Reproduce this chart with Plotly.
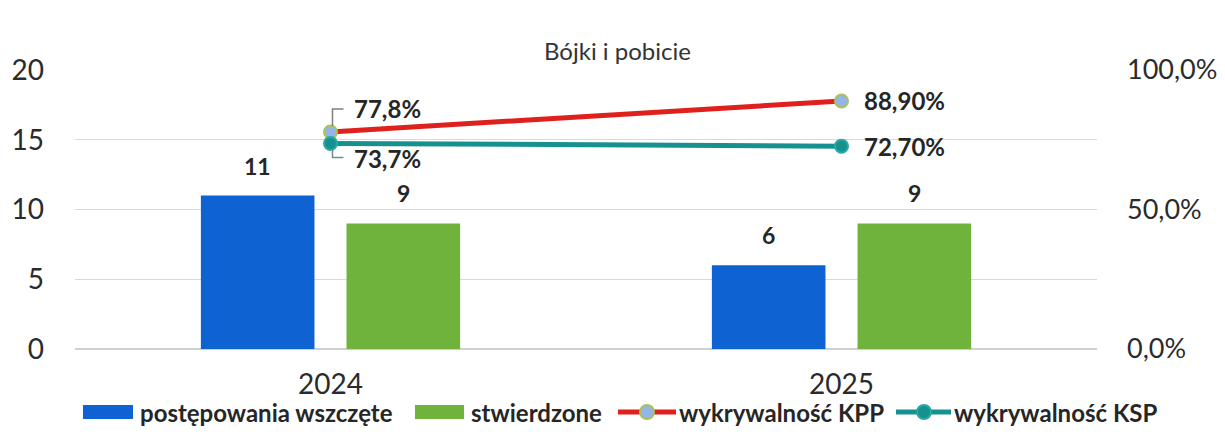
import plotly.graph_objects as go

years = ["2024", "2025"]
wszczete = [11, 6]
stwierdzone = [9, 9]
kpp = [77.8, 88.9]
ksp = [73.7, 72.7]
kpp_labels = ["77,8%", "88,90%"]
ksp_labels = ["73,7%", "72,70%"]
left_ticks = [0, 5, 10, 15, 20]
right_ticks = [0, 50, 100]
right_tick_labels = ["0,0%", "50,0%", "100,0%"]
title_text = "Bójki i pobicie"

FONT = "Lato"
DARK = "#262626"
BLUE = "#0f62d2"
GREEN = "#6fb33c"
RED = "#e0201c"
TEAL = "#17918f"
KPP_FILL = "#93b6e6"
KPP_RIM = "#a9c25a"
KSP_RIM = "#2aa8a6"

# the page body adds an 8px offset; the figure is sized to fill the rest of the window
OFF = 8
W, H = 1225 - OFF, 446 - OFF
ML, MT = 75 - OFF, 70 - OFF
MR = W - (1097 - OFF)
MB = H - (349 - OFF)
PW, PH = W - ML - MR, H - MT - MB


def px(x):  # window pixel -> paper
    return (x - OFF - ML) / PW


def py(y):  # window pixel -> paper
    return (H - MB - (y - OFF)) / PH


fig = go.Figure()
fig.add_trace(go.Bar(x=years, y=wszczete, name="postępowania wszczęte",
                     marker=dict(color=BLUE, line=dict(width=0))))
fig.add_trace(go.Bar(x=years, y=stwierdzone, name="stwierdzone",
                     marker=dict(color=GREEN, line=dict(width=0))))
fig.add_trace(go.Scatter(
    x=years, y=kpp, name="wykrywalność KPP", yaxis="y2", mode="lines+markers",
    line=dict(color=RED, width=5),
    marker=dict(size=13, color=KPP_FILL, line=dict(color=KPP_RIM, width=2)),
    cliponaxis=False,
))
fig.add_trace(go.Scatter(
    x=years, y=ksp, name="wykrywalność KSP", yaxis="y2", mode="lines+markers",
    line=dict(color=TEAL, width=5),
    marker=dict(size=13, color=TEAL, line=dict(color=KSP_RIM, width=2)),
    cliponaxis=False,
))

ann = []
shapes = []

# bar value labels (category axis -> annotation x is the category index)
BAR_OFF = 73
for i, v in enumerate(wszczete):
    ann.append(dict(x=i, y=v, xref="x", yref="y", xshift=-BAR_OFF, yshift=14,
                    yanchor="bottom", text=f"<b>{v}</b>", showarrow=False,
                    font=dict(size=23, color=DARK, family=FONT)))
for i, v in enumerate(stwierdzone):
    ann.append(dict(x=i, y=v, xref="x", yref="y", xshift=BAR_OFF, yshift=14,
                    yanchor="bottom", text=f"<b>{v}</b>", showarrow=False,
                    font=dict(size=23, color=DARK, family=FONT)))

# line value labels
lab_font = dict(size=24, color=DARK, family=FONT)
ann.append(dict(x=0, y=kpp[0], xref="x", yref="y2", xanchor="left", yanchor="middle",
                xshift=21, yshift=23, text=f"<b>{kpp_labels[0]}</b>", showarrow=False, font=lab_font))
ann.append(dict(x=0, y=ksp[0], xref="x", yref="y2", xanchor="left", yanchor="middle",
                xshift=21, yshift=-15, text=f"<b>{ksp_labels[0]}</b>", showarrow=False, font=lab_font))
ann.append(dict(x=1, y=kpp[1], xref="x", yref="y2", xanchor="left", yanchor="middle",
                xshift=20, yshift=0, text=f"<b>{kpp_labels[1]}</b>", showarrow=False, font=lab_font))
ann.append(dict(x=1, y=ksp[1], xref="x", yref="y2", xanchor="left", yanchor="middle",
                xshift=20, yshift=0, text=f"<b>{ksp_labels[1]}</b>", showarrow=False, font=lab_font))

# elbow leader lines for the 2024 labels
shapes.append(dict(type="path", xref="x", yref="y2", xsizemode="pixel", ysizemode="pixel",
                   xanchor=0, yanchor=kpp[0], path="M2,6 L2,23 L13,23",
                   line=dict(color="#7f7f7f", width=1.5)))
shapes.append(dict(type="path", xref="x", yref="y2", xsizemode="pixel", ysizemode="pixel",
                   xanchor=0, yanchor=ksp[0], path="M2,-6 L2,-14 L13,-14",
                   line=dict(color="#6f8f8e", width=1.5)))

# title
ann.append(dict(x=px(617), y=1.0, xref="paper", yref="paper", yanchor="bottom", yshift=3,
                text=title_text, showarrow=False,
                font=dict(size=24, color="#333333", family=FONT)))

# custom legend (wide keys as in the reference)
LY = py(412)
leg_font = dict(size=24, color=DARK, family=FONT, weight="bold")
shapes.append(dict(type="rect", xref="paper", yref="paper", x0=px(83), x1=px(133),
                   y0=py(419), y1=py(405), fillcolor=BLUE, line=dict(width=0)))
ann.append(dict(x=px(138), y=LY, xref="paper", yref="paper", xanchor="left", yanchor="middle",
                text="postępowania wszczęte", showarrow=False, font=leg_font))
shapes.append(dict(type="rect", xref="paper", yref="paper", x0=px(415), x1=px(464),
                   y0=py(419), y1=py(405), fillcolor=GREEN, line=dict(width=0)))
ann.append(dict(x=px(469), y=LY, xref="paper", yref="paper", xanchor="left", yanchor="middle",
                text="stwierdzone", showarrow=False, font=leg_font))
shapes.append(dict(type="line", xref="paper", yref="paper", x0=px(618), x1=px(676),
                   y0=LY, y1=LY, line=dict(color=RED, width=5)))
shapes.append(dict(type="circle", xref="paper", yref="paper", x0=px(640), x1=px(654),
                   y0=py(419), y1=py(405), fillcolor=KPP_FILL, line=dict(color=KPP_RIM, width=2)))
ann.append(dict(x=px(677), y=LY, xref="paper", yref="paper", xanchor="left", yanchor="middle",
                text="wykrywalność KPP", showarrow=False, font=leg_font))
shapes.append(dict(type="line", xref="paper", yref="paper", x0=px(896), x1=px(951),
                   y0=LY, y1=LY, line=dict(color=TEAL, width=5)))
shapes.append(dict(type="circle", xref="paper", yref="paper", x0=px(917), x1=px(931),
                   y0=py(419), y1=py(405), fillcolor=TEAL, line=dict(color=KSP_RIM, width=2)))
ann.append(dict(x=px(952), y=LY, xref="paper", yref="paper", xanchor="left", yanchor="middle",
                text="wykrywalność KSP", showarrow=False, font=leg_font))

fig.update_layout(
    width=W, height=H,
    margin=dict(l=ML, r=MR, t=MT, b=MB, autoexpand=False),
    paper_bgcolor="white", plot_bgcolor="white",
    barmode="group", bargap=0.43, bargroupgap=0.22,
    font=dict(family=FONT, color=DARK),
    annotations=ann,
    shapes=shapes,
    showlegend=False,
    xaxis=dict(type="category", range=[-0.5, 1.5], showgrid=False, showline=False, ticks="",
               tickfont=dict(size=28, color="#2b2b2b", family=FONT),
               ticklabelstandoff=16, automargin=False),
    yaxis=dict(range=[0, 20], tickvals=left_ticks, showgrid=True, gridcolor="#d9d9d9",
               gridwidth=1, zeroline=True, zerolinecolor="#d0d0d0", showline=False,
               tickfont=dict(size=28, color="#2b2b2b", family=FONT), ticklabelstandoff=30,
               automargin=False),
    yaxis2=dict(range=[0, 100], tickvals=right_ticks, ticktext=right_tick_labels,
                overlaying="y", side="right", showgrid=False, zeroline=False,
                tickfont=dict(size=27, color="#2b2b2b", family=FONT), ticklabelstandoff=29,
                automargin=False),
)

fig.write_html("out.html")
